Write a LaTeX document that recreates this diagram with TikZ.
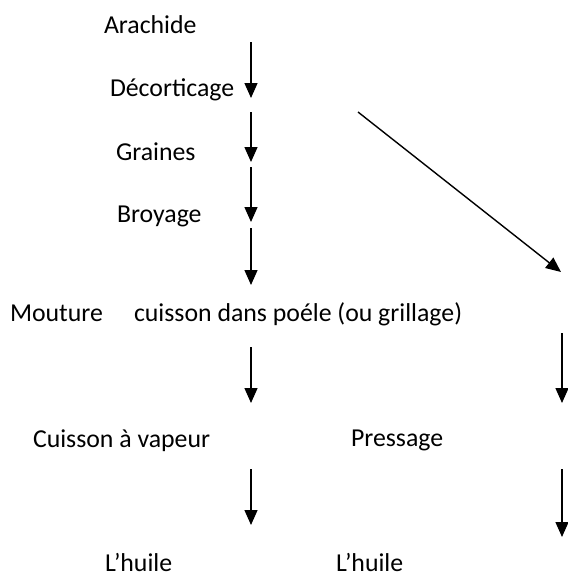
\documentclass[tikz,border=0pt]{standalone}
\usepackage{fontspec}
\setmainfont{Carlito}
\usetikzlibrary{arrows.meta}
\begin{document}
\begin{tikzpicture}[x=1pt,y=-1pt,
  lbl/.style={anchor=base west,inner sep=0pt,outer sep=0pt,font=\fontsize{25.8}{30}\selectfont},
  flow/.style={line width=1.4pt,-{Triangle[width=13pt,length=15pt]}}]
\useasboundingbox (0,0) rectangle (568,574);
% step labels
\node[lbl] (arachide) at (104,33) {Arachide};
\node[lbl] (decort) at (110,96) {Décorticage};
\node[lbl] (graines) at (116,160) {Graines};
\node[lbl] (broyage) at (117,222) {Broyage};
\node[lbl] (mouture) at (10,321) {Mouture};
\node[lbl] (cuisson) at (134,321) {cuisson dans poéle (ou grillage)};
\node[lbl] (vapeur) at (33,447) {Cuisson à vapeur};
\node[lbl] (pressage) at (351,446) {Pressage};
\node[lbl] (huileA) at (105,571) {L’huile};
\node[lbl] (huileB) at (336,571) {L’huile};
% arrow end points
\coordinate (a1s) at (251,42);  \coordinate (a1e) at (251,98);
\coordinate (a2s) at (251,112); \coordinate (a2e) at (251,162);
\coordinate (a3s) at (251,167); \coordinate (a3e) at (251,222);
\coordinate (a4s) at (251,228); \coordinate (a4e) at (251,285);
\coordinate (a5s) at (251,347); \coordinate (a5e) at (251,403);
\coordinate (a6s) at (251,469); \coordinate (a6e) at (251,525);
\coordinate (dgs) at (358,112); \coordinate (dge) at (561,272);
\coordinate (r1s) at (562,333); \coordinate (r1e) at (562,403);
\coordinate (r2s) at (562,469); \coordinate (r2e) at (562,537);
% connectors
\foreach \s/\e in {a1s/a1e,a2s/a2e,a3s/a3e,a4s/a4e,a5s/a5e,a6s/a6e,dgs/dge,r1s/r1e,r2s/r2e}
  \draw[flow] (\s) -- (\e);
\end{tikzpicture}
\end{document}
